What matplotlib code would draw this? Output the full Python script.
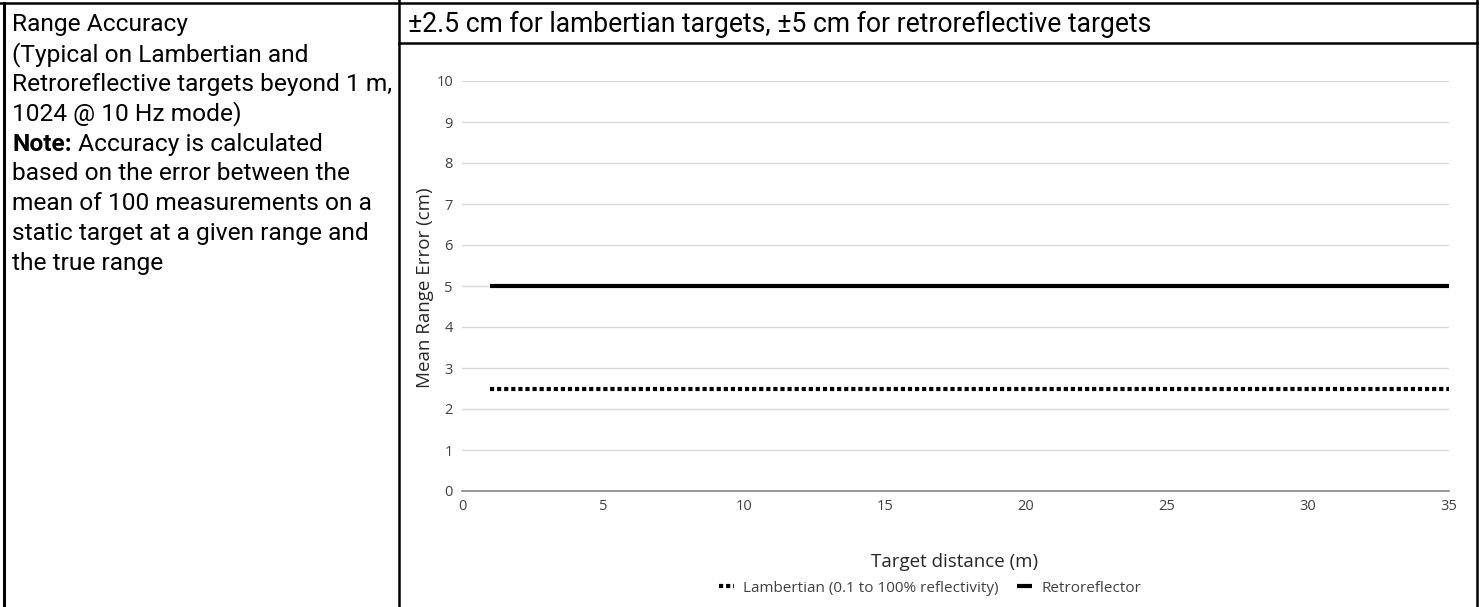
import matplotlib
matplotlib.use("Agg")
import matplotlib.pyplot as plt
from matplotlib.lines import Line2D

W, H = 1484, 607

# data
distance = [1, 35]
lambertian = [2.5, 2.5]
retro = [5, 5]
x_ticks = [0, 5, 10, 15, 20, 25, 30, 35]
y_ticks = [0, 1, 2, 3, 4, 5, 6, 7, 8, 9, 10]

left_lines = [
    "Range Accuracy",
    "(Typical on Lambertian and",
    "Retroreflective targets beyond 1 m,",
    "1024 @ 10 Hz mode)",
    None,
    "based on the error between the",
    "mean of 100 measurements on a",
    "static target at a given range and",
    "the true range",
]
header = "\u00b12.5 cm for lambertian targets, \u00b15 cm for retroreflective targets"


def fx(px):
    return px / W


def fy(py):
    return 1 - py / H


fig = plt.figure(figsize=(W / 100, H / 100), dpi=100)
renderer = fig.canvas.get_renderer()


def hline(y, x0, x1, lw=1.8):
    fig.add_artist(Line2D([fx(x0), fx(x1)], [fy(y), fy(y)], color="black", lw=lw,
                          transform=fig.transFigure))


def vline(x, y0, y1, lw=1.8):
    fig.add_artist(Line2D([fx(x), fx(x)], [fy(y0), fy(y1)], color="black", lw=lw,
                          transform=fig.transFigure))


def fit_size(txt, width, **kw):
    probe = fig.text(0, 0, txt, fontsize=10, **kw)
    size = 10 * width / probe.get_window_extent(renderer).width
    probe.remove()
    return size


# table borders
hline(3, 0, 1477)
vline(4, 3, 607, lw=2.2)
vline(399, 0, 607)
vline(1477, 0, 607)
hline(43, 399, 1477)

# left cell text
tf = "Roboto"
fs = fit_size(left_lines[2], 380, family=tf)

y0 = 31.5
step = 29.8
for i, txt in enumerate(left_lines):
    y = y0 + i * step
    if txt is None:
        t = fig.text(fx(12), fy(y), "Note:", fontsize=fs, family=tf, weight="bold", va="baseline")
        wb = t.get_window_extent(renderer).width
        fig.text(fx(12 + wb), fy(y), " Accuracy is calculated", fontsize=fs, family=tf, va="baseline")
    else:
        fig.text(fx(12), fy(y), txt, fontsize=fs, family=tf, va="baseline")

hs = fit_size(header, 745, family=tf)
fig.text(fx(408), fy(31.5), header, fontsize=hs, family=tf, va="baseline")

# chart
ax = fig.add_axes([fx(462), fy(491), fx(1449) - fx(462), fy(81) - fy(491)])
ax.plot(distance, lambertian, color="black", lw=3, linestyle=(0, (1, 0.7)),
        dash_capstyle="butt", label="Lambertian (0.1 to 100% reflectivity)")
ax.plot(distance, retro, color="black", lw=3, solid_capstyle="butt", label="Retroreflector")

ax.set_xlim(0, 35)
ax.set_ylim(0, 10)
ax.set_xticks(x_ticks)
ax.set_yticks(y_ticks)
ax.grid(axis="y", color="#d9d9d9", lw=1)
ax.set_axisbelow(True)
for s in ["top", "right", "left"]:
    ax.spines[s].set_visible(False)
ax.spines["bottom"].set_color("#868686")
ax.spines["bottom"].set_linewidth(1.2)
ax.tick_params(axis="both", length=0, labelsize=10.5, colors="#404040", labelcolor="#404040")
ax.tick_params(axis="x", pad=6)
ax.tick_params(axis="y", pad=6.5)
for lab in ax.get_xticklabels() + ax.get_yticklabels():
    lab.set_family("Open Sans")

ax.set_xlabel("Target distance (m)", fontsize=13.5, family="Open Sans", color="#262626", va="center")
ax.xaxis.set_label_coords(fx(955), fy(562), transform=fig.transFigure)
ax.set_ylabel("Mean Range Error (cm)", fontsize=13.5, family="Open Sans", color="#262626", va="center")
ax.yaxis.set_label_coords(fx(425), fy(288), transform=fig.transFigure)

leg = fig.legend(loc="center", bbox_to_anchor=(fx(930), fy(588)),
                 ncol=2, frameon=False, handlelength=1.0, columnspacing=1.2,
                 handletextpad=0.6, prop={"family": "Open Sans", "size": 11})
for t in leg.get_texts():
    t.set_color("#404040")

fig.savefig("out.png", dpi=100)
